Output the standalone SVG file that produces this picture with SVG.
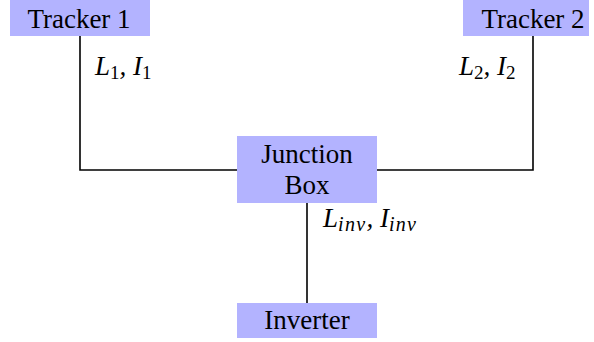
<svg xmlns="http://www.w3.org/2000/svg" width="594" height="342" viewBox="0 0 594 342">
<style>
.box{fill:#b3b3ff;stroke:none}
.t{font-family:"Liberation Serif","DejaVu Serif",serif;font-size:27px;fill:#000;text-anchor:middle}
.m{font-family:"Liberation Serif","DejaVu Serif",serif;font-size:27px;font-style:italic;fill:#000}
.sub{font-size:20px;letter-spacing:1.3px}
.sub1{font-size:19px;font-style:normal}
.c{fill:none;stroke:#000;stroke-width:1.6}
</style>
<rect width="594" height="342" fill="#fff"/>
<g id="connectors">
<polyline class="c" points="80,36 80,170 237,170"/>
<polyline class="c" points="533,36 533,170 377,170"/>
<line class="c" x1="307" y1="203" x2="307" y2="303"/>
<text class="m" x="95" y="75">L<tspan class="sub1" dy="4">1</tspan><tspan dy="-4">, I</tspan><tspan class="sub1" dy="4">1</tspan></text>
<text class="m" x="459" y="75">L<tspan class="sub1" dy="4">2</tspan><tspan dy="-4">, I</tspan><tspan class="sub1" dy="4">2</tspan></text>
<text class="m" x="323" y="227">L<tspan class="sub" dy="4">inv</tspan><tspan dy="-4">, I</tspan><tspan class="sub" dy="4">inv</tspan></text>
</g>
<g id="tracker1">
<rect class="box" x="10" y="0" width="140" height="36"/>
<text class="t" x="79" y="28">Tracker 1</text>
</g>
<g id="tracker2">
<rect class="box" x="463" y="0" width="126" height="36"/>
<text class="t" x="533" y="28">Tracker 2</text>
</g>
<g id="junction">
<rect class="box" x="237" y="136" width="140" height="67"/>
<text class="t" x="307" y="163">Junction</text>
<text class="t" x="307" y="194">Box</text>
</g>
<g id="inverter">
<rect class="box" x="237" y="303" width="140" height="35"/>
<text class="t" x="307" y="329">Inverter</text>
</g>
</svg>
